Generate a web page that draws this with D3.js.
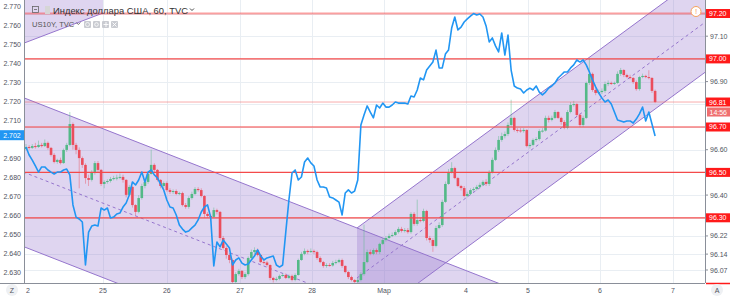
<!DOCTYPE html>
<html><head><meta charset="utf-8">
<script src="https://cdn.jsdelivr.net/npm/d3@7"></script>
<style>body{margin:0;background:#fff;overflow:hidden} svg{display:block;font-family:"Liberation Sans",Arial,sans-serif}</style>
</head><body><svg id="c" width="730" height="297"></svg>
<script>
// ---------------- DATA ----------------
const title = "Индекс доллара США, 60, TVC";
const overlayTitle = "US10Y, TVC";
const dxyFirstOpen = 96.603;
const dxyClose = [96.612,96.608,96.616,96.612,96.621,96.616,96.630,96.608,96.577,96.546,
96.555,96.541,96.599,96.621,96.713,96.621,96.599,96.563,96.533,96.475,
96.467,96.502,96.541,96.511,96.449,96.458,96.462,96.471,96.475,96.477,
96.480,96.467,96.401,96.436,96.356,96.326,96.387,96.440,96.458,96.493,
96.533,96.511,96.467,96.440,96.453,96.422,96.414,96.418,96.405,96.409,
96.356,96.348,96.387,96.405,96.427,96.422,96.396,96.317,96.308,96.304,
96.334,96.326,96.211,96.167,96.136,96.114,96.017,96.052,96.066,96.039,
96.052,96.123,96.149,96.158,96.136,96.105,96.103,96.092,96.035,96.026,
96.031,96.044,96.048,96.035,96.044,96.026,96.048,96.114,96.141,96.154,
96.149,96.154,96.149,96.123,96.105,96.088,96.092,96.090,96.101,96.105,
96.114,96.088,96.061,96.039,96.026,96.017,96.026,96.052,96.105,96.149,
96.141,96.158,96.149,96.185,96.202,96.211,96.220,96.224,96.237,96.251,
96.242,96.246,96.237,96.317,96.273,96.290,96.286,96.330,96.211,96.202,
96.176,96.255,96.268,96.370,96.449,96.502,96.519,96.475,96.440,96.431,
96.396,96.405,96.422,96.427,96.436,96.445,96.458,96.449,96.502,96.555,
96.599,96.643,96.660,96.669,96.709,96.740,96.687,96.685,96.682,96.687,
96.616,96.621,96.643,96.647,96.682,96.684,96.740,96.731,96.740,96.766,
96.740,96.722,96.696,96.766,96.797,96.801,96.753,96.709,96.740,96.894,
96.934,96.863,96.850,96.854,96.859,96.889,96.894,96.892,96.894,96.934,
96.951,96.929,96.920,96.916,96.898,96.867,96.920,96.925,96.920,96.916,
96.859,96.810];
const dxyHigh = [96.625,96.62,96.625,96.63,96.64,96.63,96.645,96.636,96.612,96.585,
96.56,96.565,96.605,96.63,96.766,96.72,96.63,96.61,96.57,96.54,
96.49,96.51,96.55,96.55,96.515,96.465,96.47,96.48,96.485,96.49,
96.495,96.49,96.47,96.445,96.44,96.36,96.40,96.45,96.47,96.50,
96.60,96.54,96.515,96.47,96.46,96.46,96.43,96.425,96.425,96.415,
96.415,96.365,96.395,96.415,96.435,96.435,96.43,96.40,96.325,96.315,
96.345,96.34,96.33,96.22,96.175,96.145,96.12,96.06,96.075,96.07,
96.06,96.13,96.16,96.17,96.165,96.14,96.115,96.11,96.095,96.04,
96.04,96.05,96.055,96.055,96.05,96.05,96.055,96.12,96.15,96.165,
96.16,96.165,96.16,96.155,96.13,96.11,96.10,96.10,96.11,96.115,
96.12,96.12,96.09,96.065,96.045,96.03,96.035,96.06,96.27,96.16,
96.16,96.165,96.165,96.19,96.21,96.22,96.23,96.235,96.245,96.26,
96.26,96.255,96.255,96.325,96.325,96.38,96.30,96.34,96.335,96.22,
96.21,96.265,96.28,96.38,96.46,96.515,96.545,96.525,96.48,96.445,
96.44,96.415,96.43,96.435,96.445,96.455,96.465,96.47,96.51,96.565,
96.61,96.66,96.675,96.68,96.72,96.82,96.745,96.695,96.695,96.695,
96.69,96.63,96.65,96.655,96.69,96.695,96.75,96.75,96.75,96.775,
96.77,96.745,96.73,96.775,96.81,96.815,96.805,96.76,96.75,96.90,
97.00,96.94,96.87,96.865,96.87,96.90,96.905,96.90,96.90,96.945,
96.96,96.955,96.935,96.93,96.92,96.905,96.925,96.935,96.93,96.95,
96.92,96.865];
const dxyLow = [96.598,96.60,96.603,96.605,96.608,96.61,96.612,96.60,96.57,96.54,
96.538,96.535,96.538,96.59,96.615,96.60,96.58,96.43,96.52,96.45,
96.44,96.46,96.49,96.50,96.44,96.43,96.45,96.455,96.465,96.465,
96.47,96.455,96.39,96.395,96.345,96.31,96.32,96.38,96.43,96.45,
96.49,96.50,96.46,96.43,96.43,96.415,96.405,96.405,96.40,96.40,
96.35,96.34,96.34,96.38,96.40,96.415,96.39,96.30,96.30,96.29,
96.30,96.315,96.20,96.16,96.12,96.10,96.00,96.01,96.045,96.03,
96.03,96.045,96.115,96.14,96.13,96.10,96.095,96.085,96.025,96.015,
96.02,96.025,96.04,96.03,96.03,96.02,96.02,96.045,96.11,96.135,
96.14,96.145,96.14,96.115,96.10,96.08,96.08,96.085,96.085,96.095,
96.10,96.08,96.055,96.03,96.02,96.005,96.01,96.02,96.045,96.10,
96.135,96.135,96.14,96.14,96.18,96.195,96.205,96.215,96.22,96.23,
96.235,96.235,96.23,96.23,96.265,96.265,96.28,96.28,96.20,96.19,
96.15,96.17,96.25,96.26,96.365,96.445,96.495,96.47,96.435,96.42,
96.39,96.39,96.40,96.415,96.42,96.43,96.44,96.44,96.44,96.495,
96.55,96.59,96.635,96.65,96.66,96.70,96.68,96.675,96.675,96.675,
96.61,96.605,96.615,96.635,96.64,96.675,96.68,96.72,96.725,96.735,
96.735,96.71,96.69,96.69,96.76,96.79,96.745,96.70,96.70,96.735,
96.885,96.855,96.84,96.845,96.845,96.85,96.88,96.885,96.885,96.89,
96.925,96.92,96.915,96.91,96.89,96.86,96.86,96.915,96.915,96.91,
96.85,96.805];
const us10y = [2.6958,2.6916,2.6889,2.6858,2.6826,2.6853,2.6853,2.6837,2.6826,2.6816,
2.6826,2.6826,2.6837,2.6842,2.6811,2.6653,2.6589,2.6579,2.6563,2.6337,
2.6510,2.6542,2.6547,2.6542,2.6637,2.6626,2.6637,2.6584,2.6589,2.6605,
2.6610,2.6642,2.6663,2.6705,2.6774,2.6758,2.6784,2.6826,2.6774,2.6826,
2.6837,2.6811,2.6795,2.6763,2.6732,2.6679,2.6642,2.6637,2.6600,2.6547,
2.6526,2.6510,2.6516,2.6532,2.6547,2.6574,2.6616,2.6642,2.6653,2.6589,
2.6332,2.6458,2.6432,2.6468,2.6447,2.6426,2.6337,2.6363,2.6374,2.6347,
2.6337,2.6342,2.6363,2.6384,2.6416,2.6384,2.6363,2.6374,2.6379,2.6384,
2.6337,2.6326,2.6337,2.6510,2.6679,2.6821,2.6837,2.6784,2.6800,2.6879,
2.6900,2.6874,2.6858,2.6784,2.6747,2.6747,2.6742,2.6695,2.6690,2.6679,
2.6668,2.6600,2.6716,2.6732,2.6716,2.6726,2.6784,2.7074,2.7126,2.7174,
2.7142,2.7111,2.7179,2.7163,2.7189,2.7168,2.7168,2.7179,2.7195,2.7189,
2.7189,2.7189,2.7184,2.7226,2.7221,2.7258,2.7321,2.7311,2.7363,2.7384,
2.7405,2.7468,2.7374,2.7374,2.7447,2.7468,2.7584,2.7642,2.7574,2.7589,
2.7616,2.7632,2.7647,2.7660,2.7653,2.7658,2.7642,2.7595,2.7511,2.7532,
2.7490,2.7458,2.7558,2.7442,2.7547,2.7363,2.7279,2.7268,2.7263,2.7242,
2.7258,2.7268,2.7258,2.7279,2.7247,2.7232,2.7247,2.7268,2.7279,2.7295,
2.7321,2.7337,2.7353,2.7353,2.7374,2.7390,2.7416,2.7405,2.7416,2.7390,
2.7353,2.7311,2.7274,2.7242,2.7216,2.7195,2.7205,2.7184,2.7142,2.7100,
2.7095,2.7089,2.7095,2.7095,2.7084,2.7105,2.7132,2.7168,2.7095,2.7142,
2.7079,2.7016];
// time axis: bar index where each day label sits
const dateTickIndex = [0, 24.6, 45, 68.4, 91.4, 114.4, 140.6, 160.4, 183.4, 206.7];
const dateLabels = ["2","25","26","27","28","Мар","4","5","6","7"];
const rightTicks = [97.20,97.10,97.00,96.90,96.80,96.70,96.60,96.50,96.40,96.30,96.22,96.14,96.07];
const leftTicks = [2.770,2.760,2.750,2.740,2.730,2.720,2.710,2.700,2.690,2.680,2.670,2.660,2.650,2.640,2.630];
const levelPrices = [97.20, 97.00, 96.70, 96.50, 96.30];
const lastPrice = 96.81;
const countdown = "14:56";
const us10yLast = 2.702;
// regression channels: bar index range, upper line price at start/end, channel height (price)
const channelFrom = [-8, 105.75, -8];
const channelTo = [160, 218, 24.6];
const channelUpperStart = [96.868, 96.255, 97.531];
const channelUpperEnd = [95.963, 97.392, 97.702];
const channelHeight = [0.656, 0.4405, 0.5];

// ---------------- DRAW ----------------
const svg = d3.select("#c");
const L = 24.5, R = 705, B = 283, T = 0;
const x = d3.scaleLinear().domain([0, dxyClose.length - 1]).range([26, 655.1]);
const yR = d3.scaleLinear().domain([96.07, 97.20]).range([270, 13.5]);
const yL = d3.scaleLinear().domain([2.630, 2.770]).range([272, 6]);

svg.append("rect").attr("width",730).attr("height",297).attr("fill","#fff");
svg.append("clipPath").attr("id","plot").append("rect")
  .attr("x",L).attr("y",T).attr("width",R-L).attr("height",B-T);
const plot = svg.append("g").attr("clip-path","url(#plot)");

// grid
plot.selectAll("line.vg").data(dateTickIndex.slice(1)).join("line")
  .attr("x1",d=>Math.round(x(d))+0.5).attr("x2",d=>Math.round(x(d))+0.5)
  .attr("y1",T).attr("y2",B).attr("stroke","#e9eef3").attr("stroke-width",1);
plot.selectAll("line.hg").data(rightTicks).join("line")
  .attr("x1",L).attr("x2",R).attr("y1",d=>Math.round(yR(d))+0.5).attr("y2",d=>Math.round(yR(d))+0.5)
  .attr("stroke","#e9eef3").attr("stroke-width",1);

// channels
const chCol = "#9575cd";
channelFrom.forEach((f,k)=>{
  const t = channelTo[k], u0 = channelUpperStart[k], u1 = channelUpperEnd[k], h = channelHeight[k];
  const pts = [[x(f),yR(u0)],[x(t),yR(u1)],[x(t),yR(u1-h)],[x(f),yR(u0-h)]];
  plot.append("path").attr("d","M"+pts.map(p=>p.join(",")).join("L")+"Z")
    .attr("fill","rgba(149,117,205,0.3)").attr("stroke","none");
  [[u0,u1,null],[u0-h,u1-h,null],[u0-h/2,u1-h/2,"3,3"]].forEach(([a,b,dash])=>{
    plot.append("line").attr("x1",x(f)).attr("y1",yR(a)).attr("x2",x(t)).attr("y2",yR(b))
      .attr("stroke",chCol).attr("stroke-width",1).attr("stroke-dasharray",dash);
  });
});

// candles
const up = "#53b987", dn = "#eb4d5c";
const candles = dxyClose.map((c,i)=>({i, o: i===0 ? dxyFirstOpen : dxyClose[i-1], c, h: dxyHigh[i], l: dxyLow[i]}));
plot.selectAll("line.wick").data(candles).join("line")
  .attr("x1",d=>x(d.i)).attr("x2",d=>x(d.i))
  .attr("y1",d=>yR(d.h)).attr("y2",d=>yR(d.l))
  .attr("stroke",d=>d.c>=d.o?up:dn).attr("stroke-width",0.8).attr("opacity",0.55);
plot.selectAll("rect.body").data(candles).join("rect")
  .attr("x",d=>x(d.i)-1.3).attr("width",2.6)
  .attr("y",d=>yR(Math.max(d.o,d.c)))
  .attr("height",d=>Math.max(1,Math.abs(yR(d.o)-yR(d.c))))
  .attr("fill",d=>d.c>=d.o?up:dn);

// horizontal levels
const soft = new Set([97.20, 96.70]);
plot.selectAll("line.lvl").data(levelPrices).join("line")
  .attr("x1",L).attr("x2",R).attr("y1",d=>yR(d)).attr("y2",d=>yR(d))
  .attr("stroke",d=>soft.has(d)?"rgba(245,80,80,0.55)":"#f44a4a")
  .attr("stroke-width",d=>soft.has(d)?2:1.2);
plot.append("line").attr("x1",L).attr("x2",R).attr("y1",yR(lastPrice)).attr("y2",yR(lastPrice))
  .attr("stroke","#f05a5a").attr("stroke-width",1).attr("stroke-dasharray","1,1");

// US10Y line
plot.append("path").datum(us10y)
  .attr("d",d3.line().x((d,i)=>x(i)).y(d=>yL(d)))
  .attr("fill","none").attr("stroke","#2196f3").attr("stroke-width",1.6).attr("stroke-linejoin","round");

// axes lines
svg.append("line").attr("x1",L).attr("x2",L).attr("y1",0).attr("y2",B).attr("stroke","#8a8f99").attr("stroke-width",1);
svg.append("line").attr("x1",R+0.5).attr("x2",R+0.5).attr("y1",0).attr("y2",B).attr("stroke","#8a8f99").attr("stroke-width",1);
svg.append("line").attr("x1",0).attr("x2",R).attr("y1",B+0.5).attr("y2",B+0.5).attr("stroke","#8a8f99").attr("stroke-width",1);

const txt = "#50535e";
// left axis (tick hidden behind the last-value badge is not labelled)
const fL = d3.format(".3f");
const leftShown = leftTicks.filter(d => Math.abs(yL(d) - yL(us10yLast)) > 8);
svg.selectAll("text.lt").data(leftShown).join("text")
  .attr("x",21).attr("y",d=>yL(d)+2.5).attr("text-anchor","end")
  .attr("font-size",7).attr("fill",txt).text(d=>fL(d));
svg.append("rect").attr("x",0).attr("y",yL(us10yLast)-5).attr("width",24).attr("height",10).attr("fill","#2196f3");
svg.append("text").attr("x",12).attr("y",yL(us10yLast)+2.5).attr("text-anchor","middle")
  .attr("font-size",7).attr("fill","#fff").text(fL(us10yLast));

// right axis
const fR = d3.format(".2f");
const badges = levelPrices.concat([lastPrice]);
const rightShown = rightTicks.filter(d => badges.every(b => Math.abs(yR(d) - yR(b)) > 8) && Math.abs(yR(d) - (yR(lastPrice)+10)) > 8);
svg.selectAll("line.rt").data(rightTicks).join("line")
  .attr("x1",R).attr("x2",R+3).attr("y1",d=>yR(d)).attr("y2",d=>yR(d)).attr("stroke","#8a8f99");
svg.selectAll("text.rt").data(rightShown).join("text")
  .attr("x",710).attr("y",d=>yR(d)+2.5).attr("font-size",7).attr("fill",txt).text(d=>fR(d));
const lbl = svg.selectAll("g.lv").data(badges).join("g");
lbl.append("rect").attr("x",R+1).attr("y",d=>yR(d)-4.5).attr("width",25).attr("height",9).attr("fill","#ff1a1a");
lbl.append("text").attr("x",709).attr("y",d=>yR(d)+2.5).attr("font-size",7).attr("fill","#fff").text(d=>fR(d));
svg.append("rect").attr("x",R+2).attr("y",yR(lastPrice)+5.5).attr("width",23).attr("height",9).attr("fill","#ef6f6f");
svg.append("text").attr("x",709.5).attr("y",yR(lastPrice)+12.5).attr("font-size",7).attr("fill","#fff").text(countdown);
svg.append("line").attr("x1",R+1).attr("x2",730).attr("y1",B+0.5).attr("y2",B+0.5).attr("stroke","#ff1a1a").attr("stroke-width",1.5);

// time axis
svg.selectAll("text.dt").data(dateTickIndex).join("text")
  .attr("x",d=>x(d)).attr("y",293).attr("text-anchor",(d,i)=>i===0?"start":"middle")
  .attr("font-size",7).attr("fill",txt).text((d,i)=>dateLabels[i]);
svg.append("circle").attr("cx",12).attr("cy",290).attr("r",6).attr("fill","#eef0f3");
svg.append("text").attr("x",12).attr("y",292.5).attr("text-anchor","middle").attr("font-size",7).attr("fill",txt).text("Z");
svg.append("circle").attr("cx",717).attr("cy",290).attr("r",6).attr("fill","#eef0f3");
svg.append("text").attr("x",717).attr("y",292.5).attr("text-anchor","middle").attr("font-size",7).attr("fill",txt).text("A");

// legend
svg.append("rect").attr("x",32.5).attr("y",6.5).attr("width",6).attr("height",6).attr("fill","none").attr("stroke","#666").attr("stroke-width",0.8);
svg.append("line").attr("x1",34).attr("x2",37).attr("y1",9.5).attr("y2",9.5).attr("stroke","#666").attr("stroke-width",0.8);
svg.append("rect").attr("x",45).attr("y",6).attr("width",5).attr("height",8).attr("fill","#d6d6d6");
const t1 = svg.append("text").attr("x",53).attr("y",13.5).attr("font-size",9.4).attr("fill","#333").text(title);
const w1 = t1.node().getComputedTextLength();
svg.append("path").attr("d",`M${55+w1},8.5 l2,2 l2,-2`).attr("fill","none").attr("stroke","#333").attr("stroke-width",0.9);
const t2 = svg.append("text").attr("x",32).attr("y",27).attr("font-size",7.6).attr("fill","#555").text(overlayTitle);
const w2 = t2.node().getComputedTextLength();
svg.append("path").attr("d",`M${34+w2},22.5 l2,2 l2,-2`).attr("fill","none").attr("stroke","#555").attr("stroke-width",0.8);
[84,93,102,111].forEach(bx=>{
  svg.append("rect").attr("x",bx).attr("y",21).attr("width",7).attr("height",7).attr("rx",1).attr("fill","#c9cbd1");
});
svg.append("circle").attr("cx",87.5).attr("cy",24.5).attr("r",2).attr("fill","none").attr("stroke","#fff").attr("stroke-width",0.7);
svg.append("circle").attr("cx",96.5).attr("cy",24.5).attr("r",1.8).attr("fill","none").attr("stroke","#fff").attr("stroke-width",0.8);
svg.append("path").attr("d","M103.5,24.5h5M106,22v5").attr("stroke","#fff").attr("stroke-width",0.9);
svg.append("path").attr("d","M112.5,22.5l4,4M116.5,22.5l-4,4").attr("stroke","#fff").attr("stroke-width",0.9);

// alert icon
svg.append("circle").attr("cx",696).attr("cy",11.5).attr("r",5).attr("fill","#fff").attr("stroke","#f5a25d").attr("stroke-width",1);
svg.append("text").attr("x",696).attr("y",14.3).attr("text-anchor","middle").attr("font-size",8).attr("fill","#f5a25d").text("!");
</script></body></html>
